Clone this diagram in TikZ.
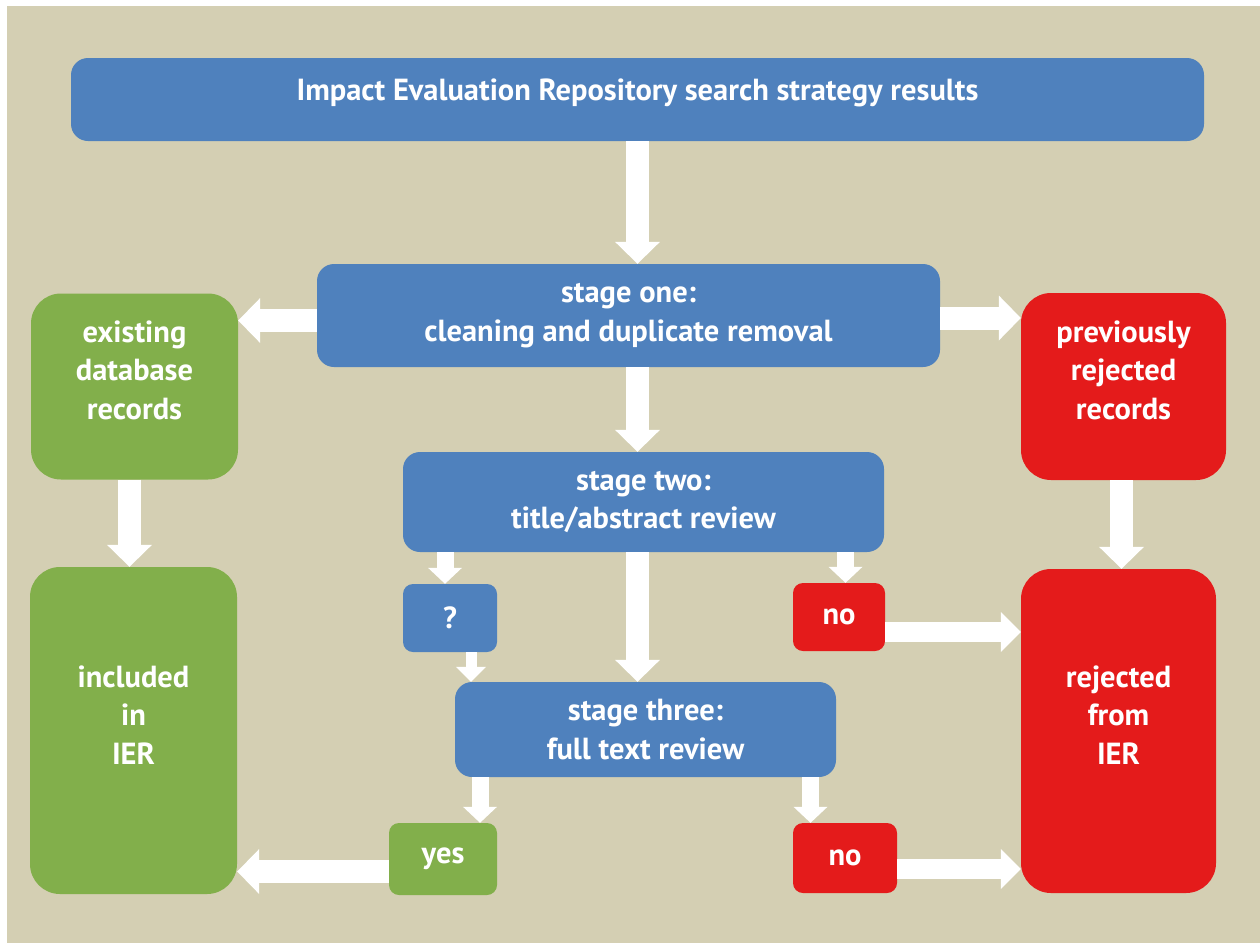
\documentclass[tikz,border=0pt]{standalone}
\usepackage{fontspec}
\setmainfont{PT Sans}
\usepackage{xcolor}
\usepackage{tikz}
\usetikzlibrary{arrows.meta}
\definecolor{ierblue}{HTML}{4F81BD}
\definecolor{iergreen}{HTML}{82AF4B}
\definecolor{ierred}{HTML}{E41B1B}
\definecolor{ierbeige}{HTML}{D4CFB3}
\newcommand{\boxfont}{\fontsize{30.5}{38.5}\selectfont\bfseries}

\begin{document}
\begin{tikzpicture}[x=1pt,y=-1pt,
	box/.style={fill=#1,rounded corners=17pt,text=white,font=\boxfont,align=center,inner sep=0pt},
	smallbox/.style={box=#1,rounded corners=10pt},
	bigbox/.style={fill=#1,rounded corners=30pt,inner sep=0pt},
	boxtext/.style={text=white,font=\boxfont,align=center,inner sep=0pt},
	bigarrow/.style={draw=white,line width=23pt,-{Triangle[width=45pt,length=22pt,line width=0pt]}},
	midarrow/.style={draw=white,line width=20pt,-{Triangle[width=40pt,length=20pt,line width=0pt]}},
	smallarrow/.style={draw=white,line width=17pt,-{Triangle[width=34pt,length=16pt,line width=0pt]}},
	tinyarrow/.style={draw=white,line width=11pt,-{Triangle[width=30pt,length=15pt,line width=0pt]}}]
	\fill[white] (0,0) rectangle (1260,943);
	\useasboundingbox (0,0) rectangle (1260,943);
	\fill[ierbeige] (7,6) rectangle (1260,943);
	\node[box=ierblue,minimum width=1133pt,minimum height=83pt] (title) at (637.5,99.5) {};
	\node[boxtext,anchor=base] (titletext) at (637.5,100) {Impact Evaluation Repository search strategy results};
	\node[box=ierblue,minimum width=623pt,minimum height=103pt] (one) at (628.5,315.5) {stage one:\\cleaning and duplicate removal};
	\node[bigbox=iergreen,minimum width=207pt,minimum height=186pt] (existing) at (134.5,386.5) {};
	\node[boxtext] (existingtext) at (134.5,370) {existing\\database\\records};
	\node[bigbox=ierred,minimum width=205pt,minimum height=187pt] (previous) at (1123.5,386.5) {};
	\node[boxtext] (previoustext) at (1123.5,370) {previously\\rejected\\records};
	\node[box=ierblue,minimum width=481pt,minimum height=100pt] (two) at (643.5,502) {stage two:\\title/abstract review};
	\node[smallbox=ierblue,minimum width=94pt,minimum height=68pt] (maybe) at (450,618) {?};
	\node[smallbox=ierred,minimum width=92pt,minimum height=68pt] (notwo) at (839,617) {no};
	\node[box=ierblue,minimum width=381pt,minimum height=95pt] (three) at (645.5,729.5) {stage three:\\full text review};
	\node[bigbox=iergreen,minimum width=207pt,minimum height=327pt] (included) at (133.5,730.5) {};
	\node[boxtext] (includedtext) at (133.5,715) {included\\in\\IER};
	\node[bigbox=ierred,minimum width=195pt,minimum height=324pt] (rejected) at (1118.5,731) {};
	\node[boxtext] (rejectedtext) at (1118.5,715) {rejected\\from\\IER};
	\node[smallbox=iergreen,minimum width=108pt,minimum height=72pt] (yes) at (443,859) {yes};
	\node[smallbox=ierred,minimum width=104pt,minimum height=70pt] (nothree) at (845,858) {no};
	\draw[bigarrow] (title.south) -- (title.south |- one.north);
	\draw[bigarrow] ([yshift=-5pt]one.west) -- ([yshift=-5pt]one.west -| existing.east);
	\draw[bigarrow] ([yshift=-2.5pt]one.east) -- ([yshift=-2.5pt]one.east -| previous.west);
	\draw[bigarrow] (one.south -| title.south) -- (two.north -| title.south);
	\draw[bigarrow] ([xshift=-5pt]existing.south) -- ([xshift=-5pt]existing.south |- included.north);
	\draw[bigarrow] ([xshift=-2pt]previous.south) -- ([xshift=-2pt]previous.south |- rejected.north);
	\draw[smallarrow] ([xshift=-5pt]maybe.north |- two.south) -- ([xshift=-5pt]maybe.north);
	\draw[bigarrow] (two.south -| title.south) -- (three.north -| title.south);
	\draw[smallarrow] ([xshift=6.5pt]notwo.north |- two.south) -- ([xshift=6.5pt]notwo.north);
	\draw[tinyarrow] ([xshift=21pt]maybe.south) -- ([xshift=21pt]maybe.south |- three.north);
	\draw[midarrow] ([yshift=-15pt]notwo.east) -- ([yshift=-15pt]notwo.east -| rejected.west);
	\draw[smallarrow] ([xshift=37pt]yes.north |- three.south) -- ([xshift=37pt]yes.north);
	\draw[smallarrow] ([xshift=-34.5pt]nothree.north |- three.south) -- ([xshift=-34.5pt]nothree.north);
	\draw[bigarrow] ([yshift=-12.5pt]yes.west) -- ([yshift=-12.5pt]yes.west -| included.east);
	\draw[midarrow] ([yshift=-11pt]nothree.east) -- ([yshift=-11pt]nothree.east -| rejected.west);
\end{tikzpicture}
\end{document}
